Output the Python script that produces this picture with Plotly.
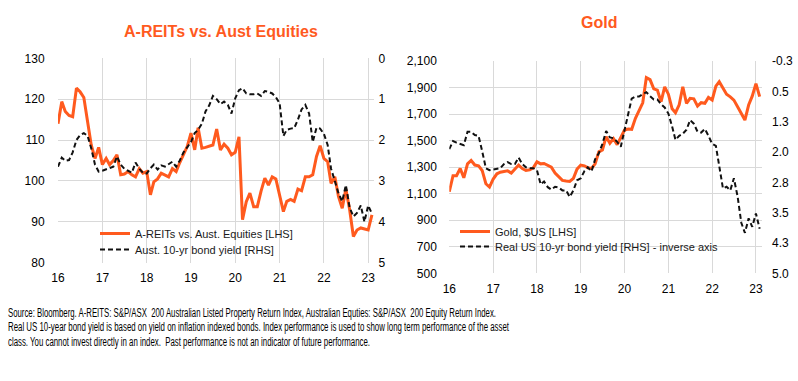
import json
import plotly.graph_objects as go
import pandas as pd

# ---------------- data (monthly, Jan-2016 .. Feb-2023) ----------------
start_month = "2016-01-01"
n_months = 86

areit_vs_equities = [114.0, 119.4, 117.0, 116.0, 115.7, 122.7, 121.8, 120.4, 114.5, 108.8, 105.5, 108.2,
                     104.0, 105.5, 104.0, 105.0, 106.4, 101.5, 101.7, 102.3, 101.5, 101.0, 103.0, 101.9,
                     102.3, 96.6, 99.8, 100.5, 101.9, 101.5, 101.0, 103.0, 102.3, 104.5, 106.5, 108.4,
                     111.7, 107.6, 113.0, 108.0, 108.2, 108.5, 108.8, 112.7, 107.6, 109.0, 108.0, 106.4,
                     107.0, 110.8, 90.5, 94.9, 97.0, 93.7, 93.7, 97.5, 100.7, 99.0, 101.0, 100.5,
                     96.5, 92.5, 95.0, 95.5, 95.0, 98.0, 97.6, 101.0, 101.0, 101.5, 106.0, 108.6,
                     105.5, 104.7, 99.4, 101.0, 96.2, 93.3, 98.0, 93.0, 86.4, 88.0, 88.5, 88.2,
                     88.0, 91.7]

aust_10yr_yield = [2.65, 2.43, 2.51, 2.49, 2.30, 2.00, 1.88, 1.83, 1.90, 2.20, 2.60, 2.77,
                   2.75, 2.72, 2.69, 2.65, 2.40, 2.60, 2.70, 2.75, 2.80, 2.55, 2.70, 2.80,
                   2.82, 2.69, 2.60, 2.72, 2.62, 2.65, 2.60, 2.53, 2.65, 2.50, 2.30, 2.17,
                   2.05, 1.83, 1.75, 1.60, 1.30, 1.15, 0.92, 1.00, 1.12, 1.06, 1.14, 1.35,
                   0.98, 0.78, 0.73, 0.86, 0.88, 0.88, 0.86, 0.92, 0.80, 0.82, 0.86, 0.95,
                   1.10, 1.90, 1.75, 1.72, 1.71, 1.50, 1.25, 1.14, 1.35, 2.05, 1.70, 1.72,
                   1.85, 2.12, 2.70, 3.00, 3.30, 3.50, 3.10, 3.65, 3.87, 3.78, 3.60, 4.00,
                   3.60, 3.80]

gold_usd = [1115, 1235, 1235, 1290, 1220, 1325, 1350, 1316, 1310, 1275, 1175, 1150,
            1210, 1250, 1262, 1270, 1272, 1255, 1285, 1316, 1290, 1275, 1280, 1295,
            1340, 1325, 1328, 1315, 1300, 1255, 1225, 1200, 1195, 1192, 1216, 1285,
            1316, 1310, 1295, 1290, 1325, 1415, 1430, 1530, 1480, 1515, 1470, 1520,
            1580, 1588, 1585, 1668, 1730, 1785, 1975, 1960, 1890, 1881, 1793, 1905,
            1850, 1740, 1710, 1770, 1906, 1781, 1819, 1815, 1760, 1786, 1781, 1825,
            1806, 1910, 1944, 1900, 1850, 1830, 1805, 1755, 1700, 1655, 1768, 1835,
            1930, 1831]

real_us_10yr_yield = [1.93, 1.73, 1.77, 1.80, 1.83, 1.50, 1.50, 1.58, 1.60, 1.98, 2.40, 2.45,
                      2.43, 2.42, 2.40, 2.30, 2.25, 2.30, 2.30, 2.14, 2.30, 2.38, 2.40, 2.40,
                      2.45, 2.80, 2.73, 2.87, 2.93, 2.86, 2.88, 2.95, 2.95, 3.11, 2.95, 2.70,
                      2.65, 2.47, 2.38, 2.48, 2.18, 2.03, 1.80, 1.48, 1.64, 1.66, 1.75, 1.87,
                      1.45, 1.10, 0.68, 0.63, 0.63, 0.57, 0.52, 0.62, 0.70, 0.70, 0.82, 0.90,
                      1.05, 1.37, 1.70, 1.60, 1.55, 1.45, 1.21, 1.30, 1.50, 1.52, 1.43, 1.60,
                      1.80, 1.85, 2.40, 2.90, 2.86, 2.95, 2.65, 3.10, 3.75, 4.00, 3.64, 3.85,
                      3.52, 3.90]

year_ticks = ["2016-01-01", "2017-01-01", "2018-01-01", "2019-01-01",
              "2020-01-01", "2021-01-01", "2022-01-01", "2023-01-01"]
year_labels = ["16", "17", "18", "19", "20", "21", "22", "23"]

real_yield_ticks = [-0.25, 0.5, 1.25, 2.0, 2.75, 3.5, 4.25, 5.0]
real_yield_labels = ["-0.3", "0.5", "1.3", "2.0", "2.8", "3.5", "4.3", "5.0"]

left_title = "A-REITs vs. Aust Equities"
right_title = "Gold"
source_lines = [
    "Source: Bloomberg. A-REITS: S&P/ASX  200 Australian Listed Property Return Index, "
    "Australian Equties: S&P/ASX  200 Equity Return Index.",
    "Real US 10-year bond yield is based on yield on inflation indexed bonds. Index performance "
    "is used to show long term performance of the asset",
    "class. You cannot invest directly in an index.  Past performance is not an indicator of "
    "future performance.",
]

# ---------------- styling ----------------
ORANGE = "#FF5A1E"
GRID = "#D9D9D9"
FONT = "Liberation Sans, Arial, sans-serif"
W, H = 798, 381
source_line_widths = [488, 501, 362]   # condensed (narrow) rendering of the footnote lines

dates = pd.date_range(start_month, periods=n_months, freq="MS")


def px_x(a, b):
    return [a / W, b / W]


def px_y(top, bottom):
    return [1 - bottom / H, 1 - top / H]


fig = go.Figure()
fig.add_trace(go.Scatter(x=dates, y=areit_vs_equities, name="A-REITs vs. Aust. Equities [LHS]",
                         mode="lines", line=dict(color=ORANGE, width=3),
                         xaxis="x", yaxis="y", legend="legend"))
fig.add_trace(go.Scatter(x=dates, y=aust_10yr_yield, name="Aust. 10-yr bond yield [RHS]",
                         mode="lines", line=dict(color="#111111", width=2, dash="5px,3px"),
                         xaxis="x", yaxis="y2", legend="legend2"))
fig.add_trace(go.Scatter(x=dates, y=gold_usd, name="Gold, $US [LHS]",
                         mode="lines", line=dict(color=ORANGE, width=3),
                         xaxis="x2", yaxis="y3", legend="legend3"))
fig.add_trace(go.Scatter(x=dates, y=real_us_10yr_yield,
                         name="Real US 10-yr bond yield [RHS] - inverse axis",
                         mode="lines", line=dict(color="#111111", width=2, dash="5px,3px"),
                         xaxis="x2", yaxis="y4", legend="legend4"))

xcommon = dict(type="date", tickvals=year_ticks, ticktext=year_labels, showgrid=False,
               minor=dict(tickvals=year_ticks[1:], showgrid=True, gridcolor=GRID, gridwidth=1,
                          ticks=""),
               zeroline=False, showline=False,
               ticks="outside", ticklen=4, tickcolor="rgba(0,0,0,0)", automargin=False,
               tickfont=dict(size=12, color="#000000", family=FONT),
               range=["2016-01-01", "2023-02-18"])
ycommon = dict(zeroline=False, ticks="outside", tickcolor="rgba(0,0,0,0)", automargin=False,
               tickfont=dict(size=12, color="#000000", family=FONT))

annotations = [
    dict(text="<b>%s</b>" % left_title, x=220.5 / W, y=1 - 31 / H, xref="paper", yref="paper",
         xanchor="center", yanchor="middle", showarrow=False,
         font=dict(size=16, color=ORANGE, family=FONT)),
    dict(text="<b>%s</b>" % right_title, x=599 / W, y=1 - 22.5 / H, xref="paper", yref="paper",
         xanchor="center", yanchor="middle", showarrow=False,
         font=dict(size=16, color=ORANGE, family=FONT)),
]
for k, line in enumerate(source_lines):
    annotations.append(dict(text=line, x=6 / W, y=1 - (313 + 14.3 * k) / H, xref="paper",
                            yref="paper", xanchor="left", yanchor="middle", align="left",
                            showarrow=False,
                            font=dict(size=12, color="#000000", family=FONT)))


def legend_at(x_px, top_px):
    return dict(x=x_px / W, y=1 - top_px / H, xanchor="left", yanchor="top",
                bgcolor="rgba(0,0,0,0)", font=dict(size=11, color="#1a1a1a", family=FONT))


fig.update_layout(
    width=W, height=H, margin=dict(l=0, r=0, t=0, b=0, autoexpand=False),
    paper_bgcolor="white", plot_bgcolor="white",
    font=dict(family=FONT, size=12, color="#000000"),
    xaxis=dict(xcommon, domain=px_x(58, 374), anchor="y"),
    yaxis=dict(ycommon, domain=px_y(58.3, 262.7), range=[80, 130], dtick=10, showgrid=True,
               gridcolor=GRID, ticklen=10),
    yaxis2=dict(ycommon, overlaying="y", side="right", anchor="x", range=[5, 0], dtick=1,
                showgrid=False, ticklen=1),
    xaxis2=dict(xcommon, domain=px_x(449.3, 761.7), anchor="y3"),
    yaxis3=dict(ycommon, domain=px_y(61, 273.3), range=[500, 2100], tick0=500, dtick=200,
                tickformat=",", showgrid=True, gridcolor=GRID, ticklen=9, anchor="x2"),
    yaxis4=dict(ycommon, overlaying="y3", side="right", anchor="x2", range=[5.0, -0.25],
                tickvals=real_yield_ticks, ticktext=real_yield_labels,
                showgrid=False, ticklen=7),
    legend=legend_at(95, 219),
    legend2=legend_at(95, 235),
    legend3=legend_at(455, 217),
    legend4=legend_at(455, 232),
    showlegend=True,
    annotations=annotations,
)

squeeze_targets = [[line.split(" ")[0] + " " + line.split(" ")[1], w]
                   for line, w in zip(source_lines, source_line_widths)]
post = """
document.body.style.margin='0';
var targets = %s;
document.querySelectorAll('text.annotation-text').forEach(function(t){
  var s = t.textContent;
  targets.forEach(function(p){
    if (s.indexOf(p[0]) === 0) {
      t.setAttribute('textLength', p[1]);
      t.setAttribute('lengthAdjust', 'spacingAndGlyphs');
    }
  });
});
""" % json.dumps(squeeze_targets)

fig.write_html("out.html", post_script=post, config={"displayModeBar": False})
